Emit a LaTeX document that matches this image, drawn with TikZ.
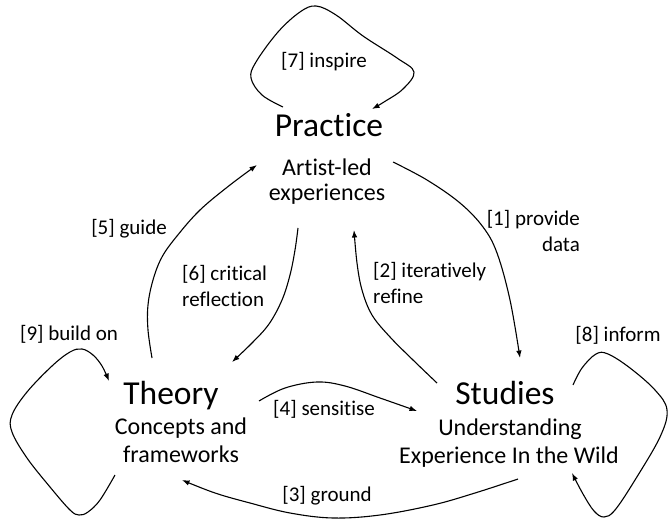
\documentclass[tikz,border=0pt]{standalone}
\usepackage{fontspec}
\setmainfont{Carlito}[Ligatures=NoCommon]
\usetikzlibrary{arrows.meta}
\begin{document}
\begin{tikzpicture}[x=1pt,y=-1pt,
  title/.style={inner sep=0pt,anchor=base,font=\fontsize{33.5}{40}\selectfont},
  sub/.style={inner sep=0pt,anchor=base,font=\fontsize{24}{28}\selectfont},
  lab/.style={inner sep=0pt,anchor=base,font=\fontsize{21}{25}\selectfont},
  conn/.style={line width=1.1pt,-{Latex[length=7.5pt,width=5.5pt]}},
  curve/.style={smooth,tension=0.6}]
\useasboundingbox (0,0) rectangle (669,521);

% concept nodes
\node[title] (prac) at (329,137) {Practice};
\node[sub] (prac1) at (327,176) {Artist-led};
\node[sub] (prac2) at (327,201) {experiences};
\node[title] (theo) at (171,404) {Theory};
\node[sub] (theo1) at (181,434) {Concepts and};
\node[sub] (theo2) at (181,462) {frameworks};
\node[title] (stud) at (505,404) {Studies};
\node[sub] (stud1) at (510,435) {Understanding};
\node[sub] (stud2) at (509,463) {Experience In the Wild};

% edge labels
\node[lab] (l7) at (324,68) {[7] inspire};
\node[lab] (l5) at (129,235) {[5] guide};
\node[lab,anchor=base west] (l6a) at (182,280) {[6] critical};
\node[lab,anchor=base west] (l6b) at (182,306) {reflection};
\node[lab,anchor=base west] (l2a) at (373,278) {[2] iteratively};
\node[lab,anchor=base west] (l2b) at (373,303) {refine};
\node[lab,anchor=base east] (l1a) at (580,226) {[1] provide};
\node[lab,anchor=base east] (l1b) at (580,252) {data};
\node[lab] (l8) at (618,341) {[8] inform};
\node[lab] (l9) at (69,340) {[9] build on};
\node[lab] (l4) at (324,415) {[4] sensitise};
\node[lab] (l3) at (327,501) {[3] ground};

% connector end points
\coordinate (p7s) at (283,107);  \coordinate (p7e) at (372,109);
\coordinate (p1s) at (393,162);  \coordinate (s1e) at (520,358);
\coordinate (s2s) at (437,383);  \coordinate (p2e) at (354,230);
\coordinate (s3s) at (518,479);  \coordinate (t3e) at (182,480);
\coordinate (t4s) at (259,401);  \coordinate (s4e) at (417,411);
\coordinate (t5s) at (152,358);  \coordinate (p5e) at (257,165);
\coordinate (p6s) at (298,228);  \coordinate (t6e) at (232,362);
\coordinate (s8s) at (573,385);  \coordinate (s8e) at (572,473);
\coordinate (t9s) at (115,475);  \coordinate (t9e) at (109,381);

% [7] inspire
\draw[conn] plot[curve] coordinates {(p7s) (262,95) (251,78) (256,62) (278,32) (300,12) (316,6) (336,15) (363,36) (397,58) (414,72) (403,89) (384,102) (p7e)};
% [1] provide data
\draw[conn] plot[curve] coordinates {(p1s) (427,180) (460,203) (483,227) (497,253) (510,300) (s1e)};
% [2] iteratively refine
\draw[conn] plot[curve] coordinates {(s2s) (413,360) (390,337) (372,315) (362,290) (357,263) (p2e)};
% [3] ground
\draw[conn] plot[curve] coordinates {(s3s) (475,493) (433,505) (380,515) (333,518) (290,513) (250,503) (215,493) (t3e)};
% [4] sensitise
\draw[conn] plot[curve] coordinates {(t4s) (285,388) (317,382) (345,386) (380,398) (s4e)};
% [5] guide
\draw[conn] plot[curve] coordinates {(t5s) (148,330) (148,305) (153,280) (162,257) (177,236) (200,210) (230,185) (p5e)};
% [6] critical reflection
\draw[conn] plot[curve] coordinates {(p6s) (295,250) (290,275) (282,300) (269,324) (252,343) (t6e)};
% [8] inform
\draw[conn] plot[curve] coordinates {(s8s) (582,368) (596,354) (608,354) (630,368) (655,390) (667,410) (660,437) (635,480) (615,510) (604,517) (594,511) (583,494) (s8e)};
% [9] build on
\draw[conn] plot[curve] coordinates {(t9s) (100,500) (88,512) (79,515) (70,510) (50,487) (27,458) (12,432) (12,415) (27,392) (52,366) (70,352) (82,349) (93,355) (102,366) (t9e)};
\end{tikzpicture}
\end{document}
